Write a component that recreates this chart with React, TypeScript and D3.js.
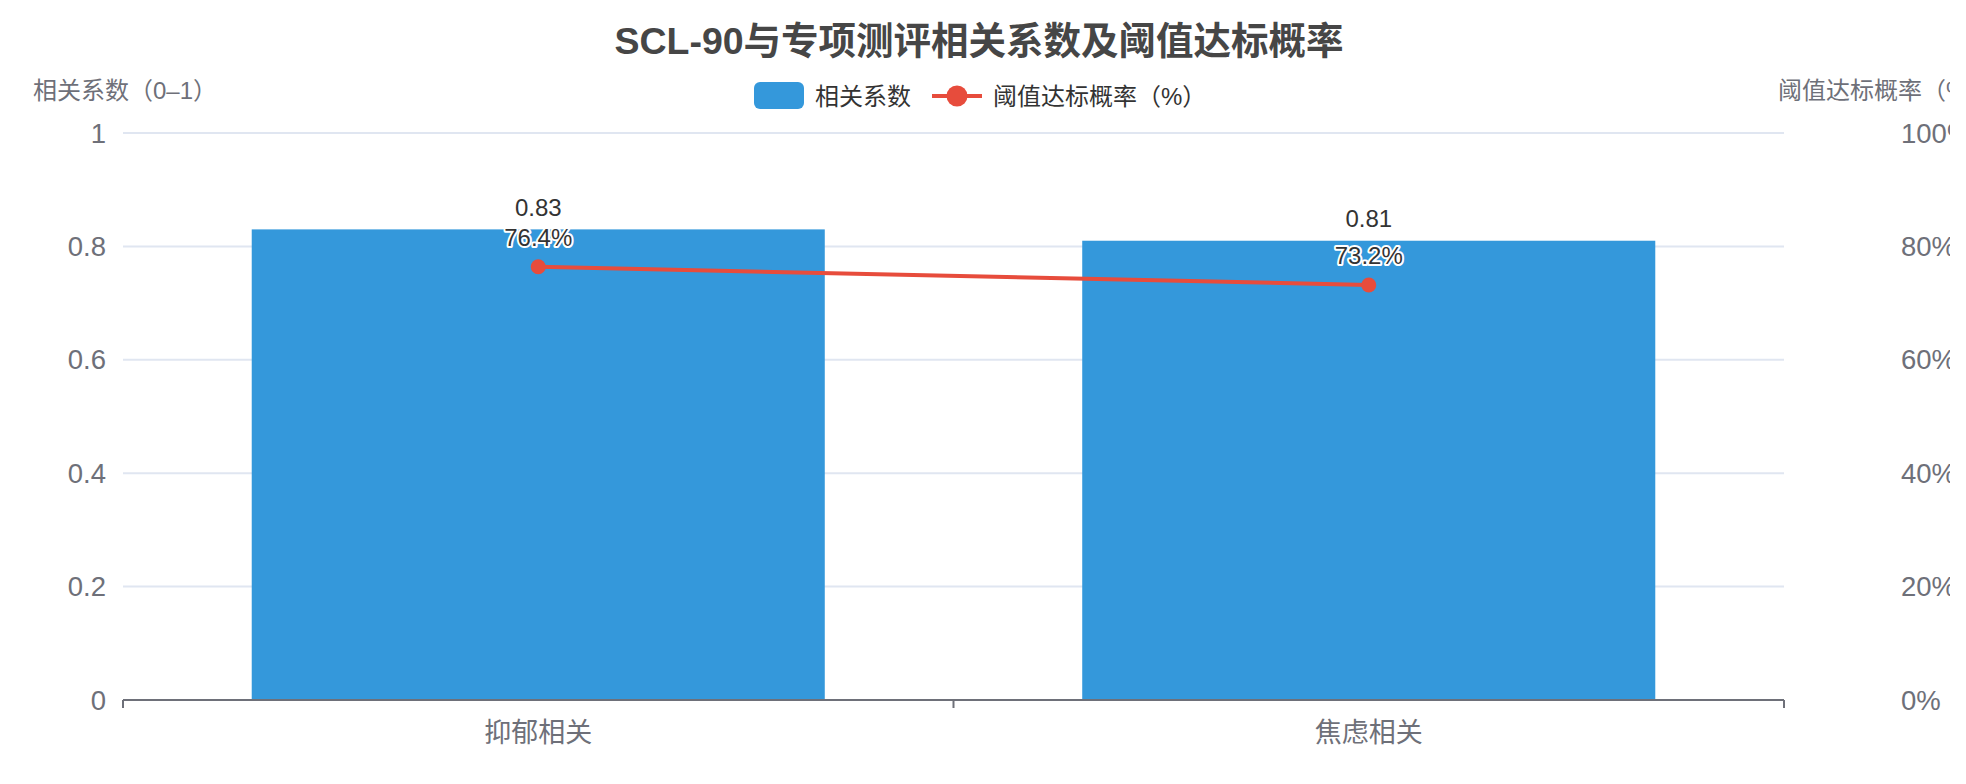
import React from "react";
import * as d3 from "d3";

const categories = ["抑郁相关", "焦虑相关"];
const corrValues = [0.83, 0.81];
const rateValues = [76.4, 73.2];
const leftTicks = [0, 0.2, 0.4, 0.6, 0.8, 1];
const rightTicks = [0, 20, 40, 60, 80, 100];
const titleText = "SCL-90与专项测评相关系数及阈值达标概率";
const seriesNames = ["相关系数", "阈值达标概率（%）"];
const axisNames = ["相关系数（0–1）", "阈值达标概率（%）"];

const W = 1966;
const H = 784;
const FONT = "'Liberation Sans', 'Noto Sans CJK SC', sans-serif";
const BLUE = "#3498db";
const RED = "#e74c3c";
const AXIS = "#6e7079";
const GRID = "#e0e6f1";

export default function App() {
  const left = 123, right = 1784, top = 133, bottom = 700;
  const x = d3.scaleBand<string>().domain(categories).range([left, right]).padding(0);
  const yL = d3.scaleLinear().domain([0, 1]).range([bottom, top]);
  const yR = d3.scaleLinear().domain([0, 100]).range([bottom, top]);
  const barW = x.bandwidth() * 0.69;
  const cx = (c: string) => (x(c) as number) + x.bandwidth() / 2;
  const line = d3.line<number>()
    .x((_, i) => cx(categories[i]))
    .y((d) => yR(d));

  return (
    <svg width={W} height={H} style={{ position: "absolute", left: 0, top: 0, fontFamily: FONT }}>
      <defs>
        <clipPath id="view">
          <rect x={0} y={0} width={1950} height={H} />
        </clipPath>
      </defs>
      <rect width={W} height={H} fill="#fff" />
      <g clipPath="url(#view)">
        {/* title */}
        <text x={W / 2 - 4} y={41} textAnchor="middle" dominantBaseline="central" fontSize={37.5} fontWeight="bold" fill="#464646">
          {titleText}
        </text>
        {/* legend */}
        <rect x={754} y={82} width={50} height={27} rx={6} fill={BLUE} />
        <text x={815} y={96} dominantBaseline="central" fontSize={24} fill="#333">{seriesNames[0]}</text>
        <line x1={932} x2={982} y1={96} y2={96} stroke={RED} strokeWidth={4} />
        <circle cx={957} cy={96} r={10.5} fill={RED} />
        <text x={993} y={96} dominantBaseline="central" fontSize={24} fill="#333">{seriesNames[1]}</text>
        {/* axis names */}
        <text x={33} y={90} dominantBaseline="central" fontSize={24} fill={AXIS}>{axisNames[0]}</text>
        <text x={1778} y={90} dominantBaseline="central" fontSize={24} fill={AXIS}>{axisNames[1]}</text>
        {/* grid lines */}
        {leftTicks.slice(1).map((t) => (
          <line key={t} x1={left} x2={right} y1={yL(t)} y2={yL(t)} stroke={GRID} strokeWidth={2} />
        ))}
        {/* left labels */}
        {leftTicks.map((t) => (
          <text key={t} x={106} y={yL(t)} textAnchor="end" dominantBaseline="central" fontSize={27.5} fill={AXIS}>
            {d3.format("~g")(t)}
          </text>
        ))}
        {/* right labels */}
        {rightTicks.map((t) => (
          <text key={t} x={1901} y={yR(t)} textAnchor="start" dominantBaseline="central" fontSize={27.5} fill={AXIS}>
            {t + "%"}
          </text>
        ))}
        {/* bars */}
        {categories.map((c, i) => (
          <rect key={c} x={cx(c) - barW / 2} y={yL(corrValues[i])} width={barW} height={bottom - yL(corrValues[i])} fill={BLUE} />
        ))}
        {/* x axis */}
        <line x1={left} x2={right} y1={bottom} y2={bottom} stroke={AXIS} strokeWidth={2} />
        {[left, left + x.bandwidth(), right].map((tx, i) => (
          <line key={i} x1={tx} x2={tx} y1={bottom} y2={bottom + 8} stroke={AXIS} strokeWidth={2} />
        ))}
        {categories.map((c) => (
          <text key={c} x={cx(c)} y={733} textAnchor="middle" dominantBaseline="central" fontSize={27} fill={AXIS}>
            {c}
          </text>
        ))}
        {/* line */}
        <path d={line(rateValues) as string} fill="none" stroke={RED} strokeWidth={4} />
        {rateValues.map((v, i) => (
          <circle key={i} cx={cx(categories[i])} cy={yR(v)} r={7.5} fill={RED} />
        ))}
        {/* bar labels */}
        {categories.map((c, i) => (
          <text key={c} x={cx(c)} y={yL(corrValues[i]) - 22} textAnchor="middle" dominantBaseline="central" fontSize={24} fill="#333">
            {corrValues[i].toFixed(2)}
          </text>
        ))}
        {/* line labels */}
        {rateValues.map((v, i) => (
          <text key={i} x={cx(categories[i])} y={yR(v) - 29} textAnchor="middle" dominantBaseline="central" fontSize={24} fill="#333"
            stroke="#fff" strokeWidth={4} paintOrder="stroke" strokeLinejoin="round">
            {v.toFixed(1) + "%"}
          </text>
        ))}
      </g>
    </svg>
  );
}
